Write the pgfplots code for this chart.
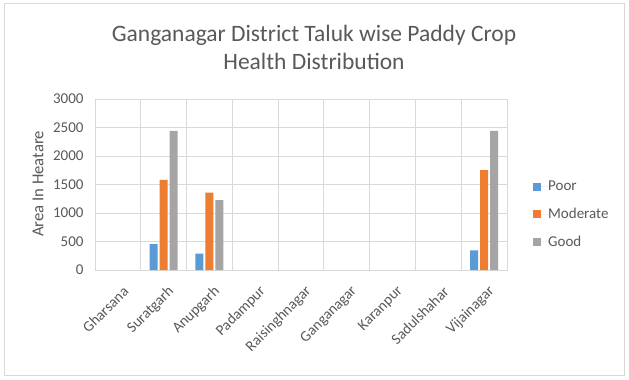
\documentclass[border=0pt]{standalone}
\usepackage{fontspec}
\setmainfont{Carlito}
\usepackage{pgfplots}
\pgfplotsset{compat=1.18}
\definecolor{cpoor}{HTML}{5B9BD5}
\definecolor{cmod}{HTML}{ED7D31}
\definecolor{cgood}{HTML}{A5A5A5}
\definecolor{ctext}{HTML}{595959}
\definecolor{cgrid}{HTML}{D9D9D9}
\begin{document}
\begin{tikzpicture}[x=1bp,y=1bp]
\fill[white] (0,0) rectangle (629,379);
\draw[cgrid, line width=1bp] (4,4) rectangle (624.5,375);
\node[text=ctext, align=center, font=\fontsize{23.5bp}{28bp}\selectfont] at (314,332) {Ganganagar District Taluk wise Paddy Crop\\Health Distribution};
\node[text=ctext, rotate=90, font=\fontsize{16.7bp}{18bp}\selectfont] at (38,195) {Area In Heatare};
\begin{axis}[
  at={(95bp,109bp)}, anchor=south west,
  scale only axis, width=412bp, height=171bp,
  xmin=-0.5, xmax=8.5, ymin=0, ymax=3000,
  ytick={0,500,...,3000},
  xtick={0,...,8},
  xticklabels={Gharsana,Suratgarh,Anupgarh,Padampur,Raisinghnagar,Ganganagar,Karanpur,Sadulshahar,Vijainagar},
  minor xtick={-0.5,0.5,...,8.5},
  major tick length=0pt, minor tick length=0pt,
  ymajorgrids, xminorgrids,
  grid style={cgrid, line width=1bp},
  minor grid style={cgrid, line width=1bp},
  axis line style={cgrid, line width=1bp},
  tick label style={text=ctext, font=\fontsize{15bp}{17bp}\selectfont},
  /pgf/number format/assume math mode=true,
  /pgf/number format/1000 sep={},
  yticklabel style={xshift=-8bp},
  xticklabel style={xshift=8bp, yshift=-19bp, rotate=45, anchor=east, inner sep=0pt},
  ybar=2bp, bar width=8bp,
  legend style={at={(1.063,0.325)}, anchor=west, draw=none, fill=none, inner sep=0pt,
    row sep=16bp, text=ctext, font=\fontsize{15bp}{17bp}\selectfont,
    nodes={inner sep=0pt, anchor=west}},
  legend cell align=left,
  legend image code/.code={\fill[#1] (0bp,-4bp) rectangle (8bp,4bp); \path (0,0) -- (15bp,0);},
]
\addplot[fill=cpoor, draw=none] coordinates {(1,456) (2,286) (8,345)};
\addplot[fill=cmod, draw=none] coordinates {(1,1579) (2,1357) (8,1754)};
\addplot[fill=cgood, draw=none] coordinates {(1,2439) (2,1228) (8,2439)};
\legend{Poor,Moderate,Good}
\end{axis}
\end{tikzpicture}
\end{document}
